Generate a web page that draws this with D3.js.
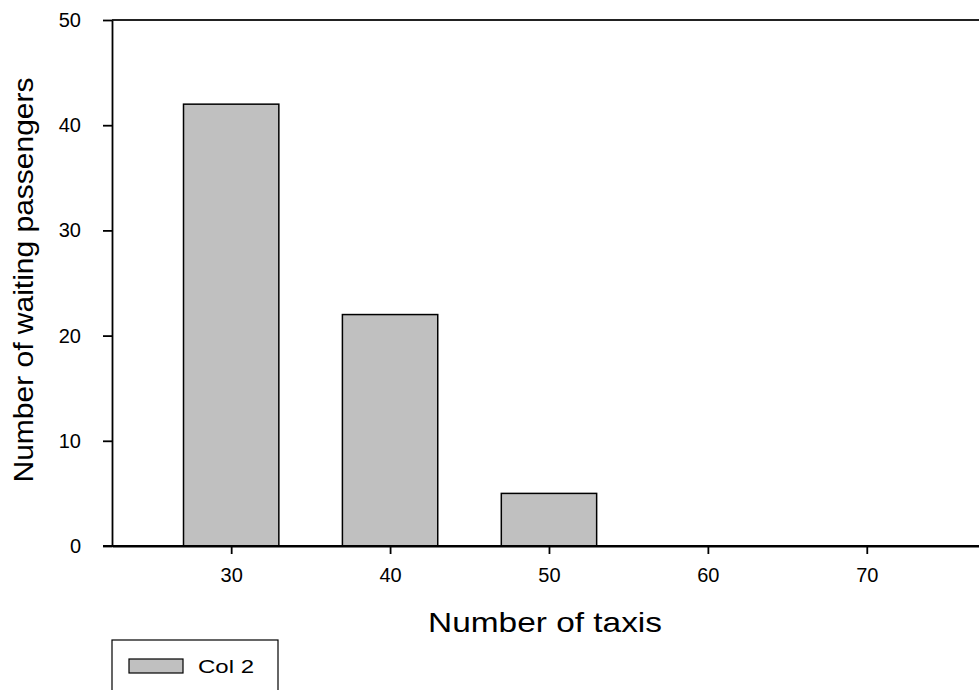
<!DOCTYPE html>
<html>
<head>
<meta charset="utf-8">
<script src="https://cdn.jsdelivr.net/npm/d3@7"></script>
<style>
  html, body { margin: 0; padding: 0; background: #fff; }
  svg { display: block; }
  text { font-family: "Liberation Sans", Arial, sans-serif; fill: #000; }
</style>
</head>
<body>
<svg id="chart" width="979" height="690"></svg>
<script>
// ---- data ----
const categories = [30, 40, 50, 60, 70];
const values = [42, 22, 5, 0, 0];
const xTicks = [30, 40, 50, 60, 70];
const yTicks = [0, 10, 20, 30, 40, 50];
const seriesName = "Col 2";
const xTitle = "Number of taxis";
const yTitle = "Number of waiting passengers";

// ---- layout ----
const svg = d3.select("#chart");
const plotLeft = 112, plotTop = 20, plotBottom = 546;
const pxPerUnit = 15.89;
const xDomain = [22.5, 77.5];
const x = d3.scaleLinear().domain(xDomain).range([plotLeft, plotLeft + (xDomain[1] - xDomain[0]) * pxPerUnit]);
const y = d3.scaleLinear().domain([0, 50]).range([plotBottom, plotTop]);
const barWidthUnits = 6;
const fill = "#c0c0c0";

// bars
svg.append("g").selectAll("rect")
  .data(categories.map((c, i) => ({c, v: values[i]})).filter(d => d.v > 0))
  .join("rect")
  .attr("x", d => x(d.c - barWidthUnits / 2))
  .attr("width", d => x(d.c + barWidthUnits / 2) - x(d.c - barWidthUnits / 2))
  .attr("y", d => y(d.v))
  .attr("height", d => y(0) - y(d.v))
  .attr("fill", fill)
  .attr("stroke", "#000")
  .attr("stroke-width", 1.5);

// top frame line
svg.append("line")
  .attr("x1", x(xDomain[0])).attr("x2", x(xDomain[1]))
  .attr("y1", y(50)).attr("y2", y(50))
  .attr("stroke", "#222").attr("stroke-width", 1.8);

// axes
const xAxis = svg.append("g")
  .attr("transform", `translate(0,${plotBottom})`)
  .call(d3.axisBottom(x).tickValues(xTicks).tickSize(8).tickPadding(14).tickSizeOuter(0));
const yAxis = svg.append("g")
  .attr("transform", `translate(${plotLeft},0)`)
  .call(d3.axisLeft(y).tickValues(yTicks).tickSize(9).tickPadding(22).tickSizeOuter(0));

[xAxis, yAxis].forEach(g => {
  g.select(".domain").attr("stroke", "#000").attr("stroke-width", 1.8);
  g.selectAll(".tick line").attr("stroke", "#000").attr("stroke-width", 1.8);
  g.selectAll(".tick text").attr("font-size", 20).attr("fill", "#000")
    .attr("font-family", "Liberation Sans, Arial, sans-serif");
});
svg.append("line")
  .attr("x1", plotLeft - 9).attr("x2", x(xDomain[1]))
  .attr("y1", plotBottom).attr("y2", plotBottom)
  .attr("stroke", "#000").attr("stroke-width", 1.8);

// axis titles
svg.append("text")
  .attr("x", 545).attr("y", 632)
  .attr("text-anchor", "middle")
  .attr("font-size", 28)
  .attr("textLength", 234).attr("lengthAdjust", "spacingAndGlyphs")
  .text(xTitle);

svg.append("text")
  .attr("transform", `translate(33,280) rotate(-90)`)
  .attr("text-anchor", "middle")
  .attr("font-size", 27)
  .attr("textLength", 405).attr("lengthAdjust", "spacingAndGlyphs")
  .text(yTitle);

// legend
const lg = svg.append("g");
lg.append("rect")
  .attr("x", 112).attr("y", 640).attr("width", 166).attr("height", 80)
  .attr("fill", "none").attr("stroke", "#000").attr("stroke-width", 1.2);
lg.append("rect")
  .attr("x", 129).attr("y", 659).attr("width", 54).attr("height", 14)
  .attr("fill", fill).attr("stroke", "#000").attr("stroke-width", 1.2);
lg.append("text")
  .attr("x", 198).attr("y", 673)
  .attr("font-size", 19)
  .attr("textLength", 56).attr("lengthAdjust", "spacingAndGlyphs")
  .text(seriesName);
</script>
</body>
</html>
